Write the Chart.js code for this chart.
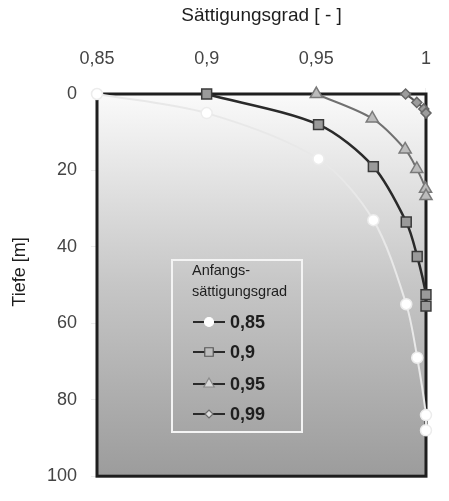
<!DOCTYPE html>
<html>
<head>
<meta charset="utf-8">
<script src="https://cdn.jsdelivr.net/npm/chart.js@4/dist/chart.umd.min.js"></script>
<style>
  body { margin: 0; background: #fff; }
  #wrap { width: 449px; height: 501px; }
</style>
</head>
<body>
<div id="wrap"><canvas id="chart" width="449" height="501"></canvas></div>
<script>
// Sättigungsgrad (x) vs. Tiefe (y) for each Anfangssättigungsgrad
const seriesNames = ['0,85', '0,9', '0,95', '0,99'];

const sat085 = [0.85, 0.90, 0.951, 0.976, 0.991, 0.996, 1.0, 1.0];
const depth085 = [0, 5, 17, 33, 55, 69, 84, 88];

const sat09 = [0.90, 0.951, 0.976, 0.991, 0.996, 1.0, 1.0];
const depth09 = [0, 8, 19, 33.5, 42.5, 52.5, 55.5];

const sat095 = [0.95, 0.9755, 0.9905, 0.9958, 0.9998, 1.0];
const depth095 = [0, 6.4, 14.5, 19.6, 24.8, 26.7];

const sat099 = [0.9907, 0.9958, 0.999, 1.0];
const depth099 = [0, 2.2, 3.9, 5];

const xTickValues = [0.85, 0.9, 0.95, 1];
const xTickLabels = ['0,85', '0,9', '0,95', '1'];
const yTickValues = [0, 20, 40, 60, 80, 100];
const yTickLabels = ['0', '20', '40', '60', '80', '100'];

const legendTitle = ['Anfangs-', 'sättigungsgrad'];
const xTitle = 'Sättigungsgrad [ - ]';
const yTitle = 'Tiefe [m]';

function toPoints(xs, ys) {
    return xs.map((x, i) => ({ x: x, y: ys[i] }));
}

const styles = [
    { line: '#e8e8e8', width: 2, point: 'circle', r: 5.5, fill: '#ffffff', stroke: '#ececec', legendFill: '#ffffff', legendStroke: '#ffffff' },
    { line: '#2a2a2a', width: 2.5, point: 'rect', r: 7, fill: '#9a9a9a', stroke: '#3a3a3a', legendFill: '#bdbdbd', legendStroke: '#555555' },
    { line: '#707070', width: 2, point: 'triangle', r: 7, fill: '#bcbcbc', stroke: '#7a7a7a', legendFill: '#d6d6d6', legendStroke: '#8a8a8a' },
    { line: '#555555', width: 2, point: 'rectRot', r: 5, fill: '#9c9c9c', stroke: '#666666', legendFill: '#dcdcdc', legendStroke: '#6a6a6a' }
];

const allData = [
    toPoints(sat085, depth085),
    toPoints(sat09, depth09),
    toPoints(sat095, depth095),
    toPoints(sat099, depth099)
];

const datasets = allData.map((pts, i) => ({
    label: seriesNames[i],
    data: pts,
    showLine: true,
    tension: 0.3,
    clip: false,
    borderColor: styles[i].line,
    borderWidth: styles[i].width,
    pointStyle: styles[i].point,
    pointRadius: styles[i].r,
    pointHoverRadius: styles[i].r,
    pointBackgroundColor: styles[i].fill,
    pointBorderColor: styles[i].stroke,
    pointBorderWidth: 1.5
}));

// gradient plot background + frame + y title
const plotFrame = {
    id: 'plotFrame',
    beforeDraw(chart) {
        const { ctx, chartArea: a } = chart;
        const g = ctx.createLinearGradient(0, a.top, 0, a.bottom);
        g.addColorStop(0, '#fafafa');
        g.addColorStop(0.5, '#c6c6c6');
        g.addColorStop(1, '#9c9c9c');
        ctx.save();
        ctx.fillStyle = g;
        ctx.fillRect(a.left, a.top, a.right - a.left, a.bottom - a.top);
        ctx.restore();
    },
    beforeDatasetsDraw(chart) {
        const { ctx, chartArea: a } = chart;
        ctx.save();
        ctx.strokeStyle = '#1e1e1e';
        ctx.lineWidth = 3;
        ctx.strokeRect(a.left, a.top, a.right - a.left, a.bottom - a.top);

        // y axis title sits a bit above the middle in the original
        ctx.translate(20, 272);
        ctx.rotate(-Math.PI / 2);
        ctx.fillStyle = '#1e1e1e';
        ctx.font = '18px "Liberation Sans", Arial, sans-serif';
        ctx.textAlign = 'center';
        ctx.textBaseline = 'middle';
        ctx.fillText(yTitle, 0, 0);
        ctx.restore();
    }
};

// legend box inside the plot
const boxLegend = {
    id: 'boxLegend',
    afterDatasetsDraw(chart) {
        const ctx = chart.ctx;
        const bx = 172, by = 260, bw = 130, bh = 172;
        ctx.save();
        ctx.strokeStyle = '#f4f4f4';
        ctx.lineWidth = 2;
        ctx.strokeRect(bx, by, bw, bh);

        ctx.fillStyle = '#1e1e1e';
        ctx.font = '14.5px "Liberation Sans", Arial, sans-serif';
        ctx.textBaseline = 'middle';
        ctx.textAlign = 'left';
        ctx.fillText(legendTitle[0], 192, 271);
        ctx.fillText(legendTitle[1], 192, 292);

        const rowY = [322, 352, 384, 414];
        seriesNames.forEach((name, i) => {
            const y = rowY[i];
            const s = styles[i];
            ctx.strokeStyle = '#2a2a2a';
            ctx.lineWidth = 2;
            ctx.beginPath();
            ctx.moveTo(193, y);
            ctx.lineTo(225, y);
            ctx.stroke();
            ctx.fillStyle = s.legendFill;
            ctx.strokeStyle = s.legendStroke;
            ctx.lineWidth = 1.2;
            Chart.helpers.drawPoint(ctx, { pointStyle: s.point, radius: s.r - 1, borderWidth: 1.2 }, 209, y);
            ctx.fillStyle = '#1e1e1e';
            ctx.font = 'bold 18px "Liberation Sans", Arial, sans-serif';
            ctx.fillText(name, 230, y + 1);
        });
        ctx.restore();
    }
};

new Chart(document.getElementById('chart'), {
    type: 'scatter',
    data: { datasets: datasets },
    options: {
        responsive: false,
        animation: false,
        devicePixelRatio: 1,
        layout: { padding: { left: 0, right: 5, top: 0, bottom: 13 } },
        plugins: {
            legend: { display: false },
            tooltip: { enabled: false }
        },
        scales: {
            x: {
                type: 'linear',
                position: 'top',
                min: 0.85,
                max: 1,
                afterBuildTicks: (scale) => {
                    scale.ticks = xTickValues.map(v => ({ value: v }));
                },
                afterFit: (scale) => { scale.height = 94; },
                ticks: {
                    color: '#444',
                    font: { size: 18, family: '"Liberation Sans", Arial, sans-serif' },
                    padding: 18,
                    callback: (v, i) => xTickLabels[i]
                },
                grid: { drawOnChartArea: false, tickLength: 6, tickColor: '#f0f0f0' },
                border: { display: false },
                title: {
                    display: true,
                    text: xTitle,
                    color: '#1e1e1e',
                    font: { size: 19, family: '"Liberation Sans", Arial, sans-serif' },
                    padding: { top: 4, bottom: 0 }
                }
            },
            y: {
                type: 'linear',
                reverse: true,
                min: 0,
                max: 100,
                afterBuildTicks: (scale) => {
                    scale.ticks = yTickValues.map(v => ({ value: v }));
                },
                afterFit: (scale) => { scale.width = 97; },
                ticks: {
                    color: '#444',
                    font: { size: 18, family: '"Liberation Sans", Arial, sans-serif' },
                    padding: 14,
                    callback: (v, i) => yTickLabels[i]
                },
                grid: { drawOnChartArea: false, tickLength: 6, tickColor: '#ececec' },
                border: { display: false },
                title: { display: false }
            }
        }
    },
    plugins: [plotFrame, boxLegend]
});
</script>
</body>
</html>
